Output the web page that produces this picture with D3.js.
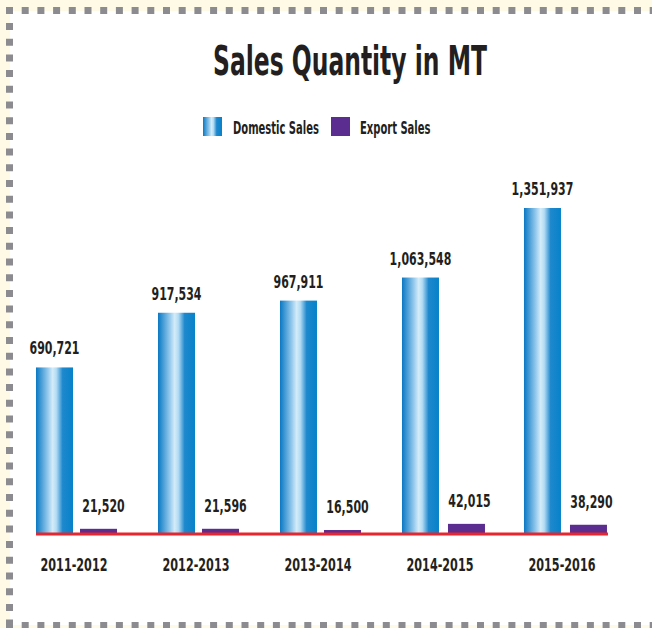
<!DOCTYPE html>
<meta charset="utf-8">
<style>

body {
  margin: 0;
  background: #fffae6;
}

svg {
  display: block;
  font-family: "DejaVu Sans Condensed", "Liberation Sans Narrow", "Arial Narrow", sans-serif;
  font-weight: bold;
}

text {
  fill: #231f20;
}

</style>
<body>
<script src="https://cdn.jsdelivr.net/npm/d3@7"></script>
<script>

var years = ["2011-2012", "2012-2013", "2013-2014", "2014-2015", "2015-2016"],
    domestic = [690721, 917534, 967911, 1063548, 1351937],
    exports = [21520, 21596, 16500, 42015, 38290],
    series = ["Domestic Sales", "Export Sales"];

var width = 652,
    height = 628,
    base = 534;

var svg = d3.select("body").append("svg")
    .attr("width", width)
    .attr("height", height);

var grad = svg.append("defs").append("linearGradient")
    .attr("id", "blue")
    .attr("x1", "0%").attr("x2", "100%")
    .attr("y1", "0%").attr("y2", "0%");

grad.selectAll("stop")
  .data([[0, "#0a78c2"], [0.12, "#3d97d3"], [0.3, "#8cc4ea"], [0.45, "#d4ecf9"], [0.55, "#b3dbf3"], [0.72, "#1e88cd"], [1, "#0682c9"]])
  .enter().append("stop")
    .attr("offset", function(d) { return d[0]; })
    .attr("stop-color", function(d) { return d[1]; });

// squeeze text horizontally so the wide fallback font looks like the condensed original
function squeeze(sel, sample, target) {
  var probe = svg.append("text").attr("font-size", sel.attr("font-size")).text(sample),
      k = target / probe.node().getComputedTextLength();
  probe.remove();
  sel.selectAll("text").attr("transform", function() {
    var t = d3.select(this);
    return "translate(" + t.attr("x") + "," + t.attr("y") + ") scale(" + k + ",1)";
  }).attr("x", 0).attr("y", 0);
}

// white panel + dotted frame
svg.append("rect")
    .attr("x", 10)
    .attr("y", 11)
    .attr("width", width - 10)
    .attr("height", 614)
    .attr("fill", "#fff");

svg.append("path")
    .attr("fill", "none")
    .attr("stroke", "#8c8c90")
    .attr("stroke-width", 7)
    .attr("stroke-dasharray", "7 8.7")
    .attr("d", "M6,10.5H652M9.5,23V628M6,625.5H652");

var x = d3.scaleBand()
    .domain(years)
    .range([36, 604])
    .paddingInner(0.344)
    .paddingOuter(0);

var y = d3.scaleLinear()
    .domain([0, d3.max(domestic)])
    .range([base, 208]);

var barW = 37,
    expOff = 44,
    fmt = d3.format(",");

var title = svg.append("g").attr("font-size", 41).attr("text-anchor", "middle");
title.append("text")
    .attr("x", 350)
    .attr("y", 75)
    .text("Sales Quantity in MT");
squeeze(title, "Sales Quantity in MT", 274);

// legend
var legend = svg.append("g")
  .selectAll("g")
  .data(series)
  .enter().append("g")
    .attr("transform", function(d, i) { return "translate(" + (203 + i * 128) + ",117)"; });

legend.append("rect")
    .attr("width", 19)
    .attr("height", 19)
    .attr("fill", function(d, i) { return i ? "#5b2d90" : "url(#blue)"; });

var legendText = svg.append("g").attr("font-size", 18);
legendText.selectAll("text")
  .data(series)
  .enter().append("text")
    .attr("x", function(d, i) { return 233 + i * 127; })
    .attr("y", 134)
    .text(function(d) { return d; });
squeeze(legendText, "Domestic Sales", 86);

svg.append("g")
  .selectAll("rect")
  .data(domestic)
  .enter().append("rect")
    .attr("x", function(d, i) { return x(years[i]); })
    .attr("y", function(d) { return y(d); })
    .attr("width", barW)
    .attr("height", function(d) { return base - y(d); })
    .attr("fill", "url(#blue)");

svg.append("g")
  .selectAll("rect")
  .data(exports)
  .enter().append("rect")
    .attr("x", function(d, i) { return x(years[i]) + expOff + (i > 2 ? 2 : 0); })
    .attr("y", function(d) { return y(d); })
    .attr("width", barW)
    .attr("height", function(d) { return base - y(d); })
    .attr("fill", "#5b2d90");

svg.append("line")
    .attr("x1", 36)
    .attr("x2", x(years[4]) + expOff + barW + 3)
    .attr("y1", base)
    .attr("y2", base)
    .attr("stroke", "#e8242c")
    .attr("stroke-width", 3);

var domLabels = svg.append("g")
    .attr("font-size", 18)
    .attr("text-anchor", "middle");
domLabels.selectAll("text")
  .data(domestic)
  .enter().append("text")
    .attr("x", function(d, i) { return x(years[i]) + barW / 2; })
    .attr("y", function(d) { return y(d) - 13; })
    .text(fmt);
squeeze(domLabels, "690,721", 50);

var expLabels = svg.append("g")
    .attr("font-size", 18)
    .attr("text-anchor", "middle");
expLabels.selectAll("text")
  .data(exports)
  .enter().append("text")
    .attr("x", function(d, i) { return x(years[i]) + expOff + barW / 2 + 5; })
    .attr("y", function(d) { return y(d) - 17; })
    .text(fmt);
squeeze(expLabels, "690,721", 50);

var yearLabels = svg.append("g")
    .attr("font-size", 18)
    .attr("text-anchor", "middle");
yearLabels.selectAll("text")
  .data(years)
  .enter().append("text")
    .attr("x", function(d) { return x(d) + x.bandwidth() / 2 - 2; })
    .attr("y", 571)
    .text(function(d) { return d; });
squeeze(yearLabels, "2011-2012", 67);

</script>
